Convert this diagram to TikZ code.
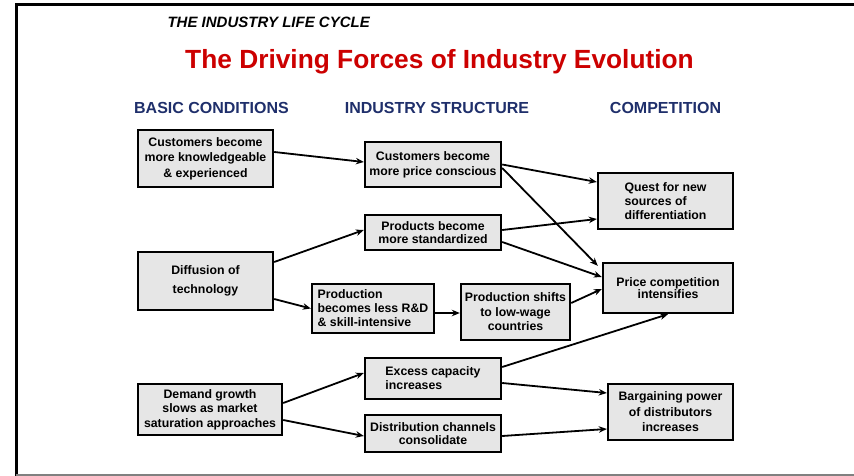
\documentclass[tikz,border=0pt]{standalone}
\usepackage{fontspec}
\setmainfont{Liberation Sans}
\usetikzlibrary{arrows.meta}
\definecolor{boxgray}{HTML}{E6E6E6}
\definecolor{navy}{HTML}{1F2F6B}
\definecolor{titlered}{HTML}{CC0000}
\begin{document}
\begin{tikzpicture}[x=1pt,y=-1pt,
  box/.style={draw=black, line width=2.4pt, fill=boxgray, inner sep=0pt,
    font=\fontsize{12.3}{15}\selectfont\bfseries, align=center},
  lsk/.style={font=\fontsize{12.3}{#1}\selectfont\bfseries},
  arr/.style={line width=1.8pt, -{Stealth[length=8pt,width=6.5pt]}},
  hdr/.style={font=\fontsize{16}{18}\selectfont\bfseries, text=navy}]
\useasboundingbox (0,0) rectangle (854,476);
% frame
\draw[line width=3pt] (16,476) -- (16,5) -- (854,5);
\draw[line width=2pt, gray] (16,474.5) -- (854,474.5);
% titles
\node[anchor=west, font=\fontsize{15}{18}\selectfont\bfseries\itshape] (lc) at (164,22) {THE INDUSTRY LIFE CYCLE};
\node[font=\fontsize{26.3}{30}\selectfont\bfseries, text=titlered] (ttl) at (439.5,62) {The Driving Forces of Industry Evolution};
\node[hdr] (h1) at (211.5,108) {BASIC CONDITIONS};
\node[hdr] (h2) at (437,108) {INDUSTRY STRUCTURE};
\node[hdr] (h3) at (665.5,108) {COMPETITION};
% boxes
\node[box, lsk=15.5, minimum width=135pt, minimum height=57pt] (b1) at (205.5,158.5) {Customers become\\more knowledgeable\\\& experienced};
\node[box, lsk=19, minimum width=135pt, minimum height=58pt] (b2) at (205.5,281) {Diffusion of\\technology};
\node[box, lsk=14.5, minimum width=144pt, minimum height=51pt] (b3) at (210,409.5) {Demand growth\\slows as market\\saturation approaches};
\node[box, lsk=15, minimum width=136pt, minimum height=45pt] (s1) at (433,164.5) {Customers become\\more price conscious};
\node[box, lsk=13, minimum width=136pt, minimum height=35pt] (s2) at (433,232.5) {Products become\\more standardized};
\node[box, lsk=14, minimum width=122pt, minimum height=49pt, align=left] (s3) at (373,308.5) {Production\\becomes less R\&D\\\& skill-intensive};
\node[box, lsk=14.5, minimum width=109pt, minimum height=56pt] (s4) at (515.5,312) {Production shifts\\to low-wage\\countries};
\node[box, lsk=14, minimum width=136pt, minimum height=41pt, align=left] (s5) at (433,378.5) {Excess capacity\\increases};
\node[box, lsk=13.5, minimum width=136pt, minimum height=37pt] (s6) at (433,433.5) {Distribution channels\\consolidate};
\node[box, lsk=14, minimum width=135pt, minimum height=56pt, align=left] (c1) at (665.5,201) {Quest for new\\sources of\\differentiation};
\node[box, lsk=12.5, minimum width=130pt, minimum height=50pt] (c2) at (668,288) {Price competition\\intensifies};
\node[box, lsk=15.5, minimum width=125pt, minimum height=56pt] (c3) at (670.5,412) {Bargaining power\\of distributors\\increases};
% arrows
\draw[arr] ([yshift=6.5pt]b1.east) -- ([yshift=2.5pt]s1.west);
\draw[arr] ([yshift=19pt]b2.east) -- ([yshift=2.5pt]s2.west);
\draw[arr] ([yshift=-18pt]b2.east) -- (s3.west);
\draw[arr] ([yshift=-4.5pt]s3.east) -- ([yshift=-1pt]s4.west);
\draw[arr] (s1.east) -- ([yshift=19pt]c1.west);
\draw[arr] ([yshift=-3.5pt]s1.east) -- ([xshift=-4pt,yshift=-4pt]c2.north west);
\draw[arr] ([yshift=2.5pt]s2.east) -- ([yshift=-18pt]c1.west);
\draw[arr] ([yshift=-9.5pt]s2.east) -- ([yshift=11pt]c2.west);
\draw[arr] ([yshift=9pt]s4.east) -- ([yshift=-1pt]c2.west);
\draw[arr] ([yshift=11.5pt]s5.east) -- (c2.south);
\draw[arr] ([yshift=-4.5pt]s5.east) -- ([yshift=19pt]c3.west);
\draw[arr] ([yshift=-2.5pt]s6.east) -- ([yshift=-17pt]c3.west);
\draw[arr] ([yshift=6.5pt]b3.east) -- ([yshift=5.5pt]s5.west);
\draw[arr] ([yshift=-10.5pt]b3.east) -- ([yshift=-2.5pt]s6.west);
\end{tikzpicture}
\end{document}
